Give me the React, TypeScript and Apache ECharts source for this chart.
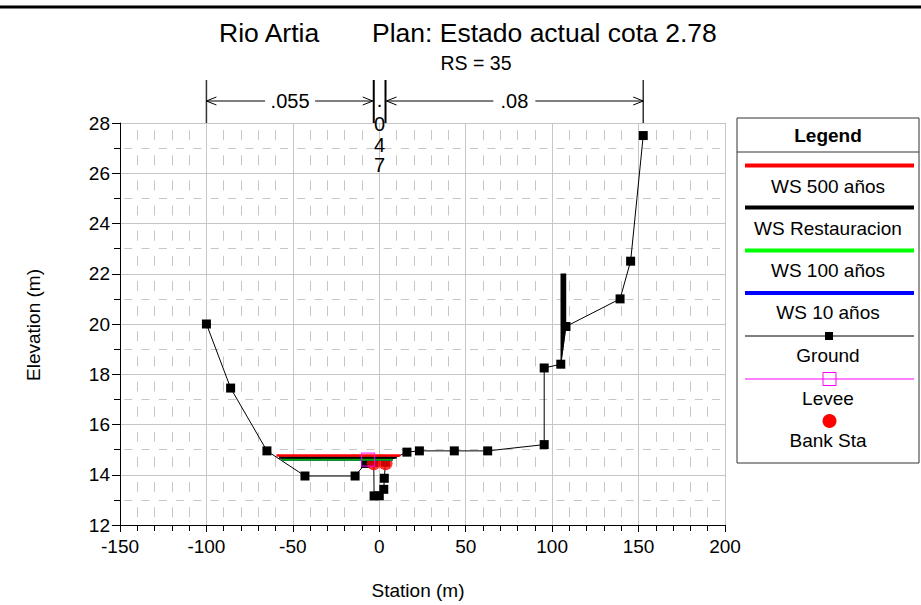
import React, { useEffect, useRef } from "react";
import * as echarts from "echarts";

// ---- Data ----
const groundStation = [-100, -86, -65, -43, -14, -8, -3.2, -3, 0, 2.6, 2.9, 3.6, 16, 23.2, 43.4, 62.7, 95.4, 95.4, 105, 108, 139.3, 145.4, 152.7];
const groundElev = [20, 17.45, 14.95, 13.95, 13.95, 14.45, 14.5, 13.16, 13.16, 13.42, 13.86, 14.5, 14.9, 14.95, 14.95, 14.95, 15.2, 18.25, 18.4, 19.9, 21, 22.5, 27.5];

const ws500Station = [-59.5, 12.2];
const ws500Elev = 14.77;
const wsRestStation = [-58, 10];
const wsRestElev = 14.69;
const ws100Station = [-56.6, 7.7];
const ws100Elev = 14.61;
const ws10Station = [-56.6, 7.7];
const ws10Elev = 14.61;

const leveeStation = [-6.5];
const leveeElev = [14.6];

const bankStation = [-3.2, 3.6];
const bankElev = [14.46, 14.46];

const obstructionStation = [105, 108, 108, 105];
const obstructionElev = [22, 22, 19.9, 18.4];

const nStations = [-100, -3.2, 3.6, 152.7];
const nValues = [".055", ".047", ".08"];

const xTicks = { min: -150, max: 200, interval: 50 };
const yTicks = { min: 12, max: 28, interval: 2 };

const legendItems = ["WS 500 años", "WS Restauracion", "WS 100 años", "WS 10 años", "Ground", "Levee", "Bank Sta"];

const F = "'Liberation Sans', Arial, Helvetica, sans-serif";

export default function App() {
  const ref = useRef<HTMLDivElement>(null);

  useEffect(() => {
    const chart = echarts.init(ref.current!, null, { renderer: "svg" });
    const gridColor = "#c6c6c6";

    const wsSeries = (name: string, st: number[], el: number, color: string, z: number) => ({
      type: "line",
      name,
      data: st.map((s) => [s, el]),
      symbol: "none",
      lineStyle: { color, width: 2.5 },
      z,
    });

    chart.setOption({
      animation: false,
      backgroundColor: "#ffffff",
      grid: { left: 120, top: 123, width: 605, height: 402, containLabel: false },
      xAxis: {
        type: "value",
        min: xTicks.min,
        max: xTicks.max,
        interval: xTicks.interval,
        axisLine: { show: true, onZero: false, lineStyle: { color: "#000", width: 1 } },
        axisTick: { show: true, length: 7, lineStyle: { color: "#000" } },
        minorTick: { show: true, splitNumber: 5, length: 6, lineStyle: { color: "#000" } },
        axisLabel: { color: "#000", fontSize: 19, fontFamily: F, margin: 12 },
        splitLine: { show: true, lineStyle: { color: gridColor, width: 1 } },
        minorSplitLine: { show: true, lineStyle: { color: gridColor, width: 1, type: [10, 15.14], dashOffset: 17.57 } },
      },
      yAxis: {
        type: "value",
        min: yTicks.min,
        max: yTicks.max,
        interval: yTicks.interval,
        axisLine: { show: true, onZero: false, lineStyle: { color: "#000", width: 1 } },
        axisTick: { show: true, length: 8, lineStyle: { color: "#000" } },
        minorTick: { show: true, splitNumber: 2, length: 6, lineStyle: { color: "#000" } },
        axisLabel: { color: "#000", fontSize: 19, fontFamily: F, margin: 10 },
        splitLine: { show: true, lineStyle: { color: gridColor, width: 1 } },
        minorSplitLine: { show: true, lineStyle: { color: gridColor, width: 1, type: [8, 9.29], dashOffset: 12.64 } },
      },
      series: [
        {
          type: "custom",
          name: "obstruction",
          data: [[obstructionStation[0], obstructionElev[0]]],
          renderItem: (_p: any, api: any) => ({
            type: "polygon",
            shape: { points: obstructionStation.map((s, i) => api.coord([s, obstructionElev[i]])) },
            style: { fill: "#000", stroke: "#000", lineWidth: 0.5 },
          }),
          z: 2,
        },
        {
          type: "line",
          name: "Ground",
          data: groundStation.map((s, i) => [s, groundElev[i]]),
          symbol: "rect",
          symbolSize: 9,
          showAllSymbol: true,
          itemStyle: { color: "#000" },
          lineStyle: { color: "#000", width: 1 },
          z: 3,
        },
        {
          type: "scatter",
          name: "Bank Sta",
          data: bankStation.map((s, i) => [s, bankElev[i]]),
          symbol: "circle",
          symbolSize: 14,
          itemStyle: { color: "#ff0000" },
          z: 4,
        },
        wsSeries("WS 10 años", ws10Station, ws10Elev, "#0000ff", 5),
        wsSeries("WS 100 años", ws100Station, ws100Elev, "#00a800", 6),
        wsSeries("WS Restauracion", wsRestStation, wsRestElev, "#000000", 7),
        wsSeries("WS 500 años", ws500Station, ws500Elev, "#ff0000", 8),
        {
          type: "scatter",
          name: "Levee",
          data: leveeStation.map((s, i) => [s, leveeElev[i]]),
          symbol: "rect",
          symbolSize: 13,
          itemStyle: { color: "rgba(0,0,0,0)", borderColor: "#ff00ff", borderWidth: 1.2 },
          z: 9,
        },
      ],
    });

    const px = nStations.map((s) => (chart.convertToPixel({ gridIndex: 0 }, [s, 28]) as number[])[0]);
    const topPx = (chart.convertToPixel({ gridIndex: 0 }, [0, 28]) as number[])[1];

    const g: any[] = [];
    const text = (x: number, y: number, t: string, size: number, extra: any = {}) => ({
      type: "text",
      x,
      y,
      style: { text: t, fontSize: size, fontFamily: F, fill: "#000", align: "center", verticalAlign: "middle", ...extra },
      z: 100,
    });
    const line = (x1: number, y1: number, x2: number, y2: number, stroke = "#000", lineWidth = 1) => ({
      type: "line",
      shape: { x1, y1, x2, y2 },
      style: { stroke, lineWidth },
      z: 100,
    });
    const chevron = (tipX: number, y: number, dir: number) => ({
      type: "polyline",
      shape: { points: [[tipX + dir * 10, y - 4], [tipX, y], [tipX + dir * 10, y + 4]] },
      style: { stroke: "#000", fill: null, lineWidth: 1 },
      z: 100,
    });

    // top border
    g.push(line(0, 7, 921, 7, "#000", 3));
    // titles
    g.push(text(219, 33, "Rio Artia", 26.5, { align: "left" }));
    g.push(text(372, 33, "Plan: Estado actual cota 2.78", 26.5, { align: "left" }));
    g.push(text(476, 63, "RS = 35", 19.5));
    // axis names
    g.push(text(418, 590, "Station (m)", 19));
    g.push({ ...text(33, 325, "Elevation (m)", 19), rotation: Math.PI / 2 });

    // n-value annotations
    const ay = 101;
    px.forEach((x, i) => {
      const isBank = i === 1 || i === 2;
      g.push(line(x, 80, x, topPx, isBank ? "#000" : "#333", isBank ? 2 : 1.5));
    });
    const c0 = (px[0] + px[1]) / 2;
    g.push(chevron(px[0], ay, 1));
    g.push(line(px[0], ay, c0 - 25, ay));
    g.push(line(c0 + 25, ay, px[1] - 1, ay));
    g.push(chevron(px[1] - 1, ay, -1));
    g.push(text(c0, ay, nValues[0], 20));
    const c2 = (px[2] + px[3]) / 2;
    g.push(chevron(px[2] + 1, ay, 1));
    g.push(line(px[2] + 1, ay, c2 - 21, ay));
    g.push(line(c2 + 21, ay, px[3], ay));
    g.push(chevron(px[3], ay, -1));
    g.push(text(c2, ay, nValues[2], 20));
    const c1 = (px[1] + px[2]) / 2;
    const chY = [100, 124, 145, 165];
    nValues[1].split("").forEach((ch, i) => g.push(text(c1, chY[i], ch, 20)));

    // legend
    const lx = 737, lw = 182, ly = 118, lh = 345;
    const cx = lx + lw / 2;
    g.push({ type: "rect", shape: { x: lx, y: ly, width: lw, height: lh }, style: { fill: "#fff", stroke: "#333", lineWidth: 1 }, z: 99 });
    g.push(text(cx, 135, "Legend", 19, { fontWeight: "bold" }));
    g.push(line(lx, 152, lx + lw, 152, "#333", 1));
    const wsColors = ["#ff0000", "#000000", "#00ff00", "#0000ff"];
    const wsLineY = [165.5, 207.5, 250.5, 293];
    const wsTextY = [186, 228, 270, 312];
    wsColors.forEach((c, i) => {
      g.push(line(745, wsLineY[i], 914, wsLineY[i], c, 4));
      g.push(text(cx, wsTextY[i], legendItems[i], 19));
    });
    g.push(line(745, 336, 914, 336, "#000", 1));
    g.push({ type: "rect", shape: { x: 825, y: 332, width: 8, height: 8 }, style: { fill: "#000" }, z: 101 });
    g.push(text(cx, 355, legendItems[4], 19));
    g.push(line(745, 379, 914, 379, "#ff00ff", 1));
    g.push({ type: "rect", shape: { x: 823, y: 372.5, width: 13, height: 13 }, style: { fill: "none", stroke: "#ff00ff", lineWidth: 1 }, z: 101 });
    g.push(text(cx, 398, legendItems[5], 19));
    g.push({ type: "circle", shape: { cx: 829.5, cy: 421, r: 7 }, style: { fill: "#ff0000" }, z: 101 });
    g.push(text(cx, 440, legendItems[6], 19));

    chart.setOption({ graphic: g });

    return () => chart.dispose();
  }, []);

  return <div ref={ref} style={{ position: "absolute", left: 0, top: 0, width: 921, height: 605 }} />;
}
